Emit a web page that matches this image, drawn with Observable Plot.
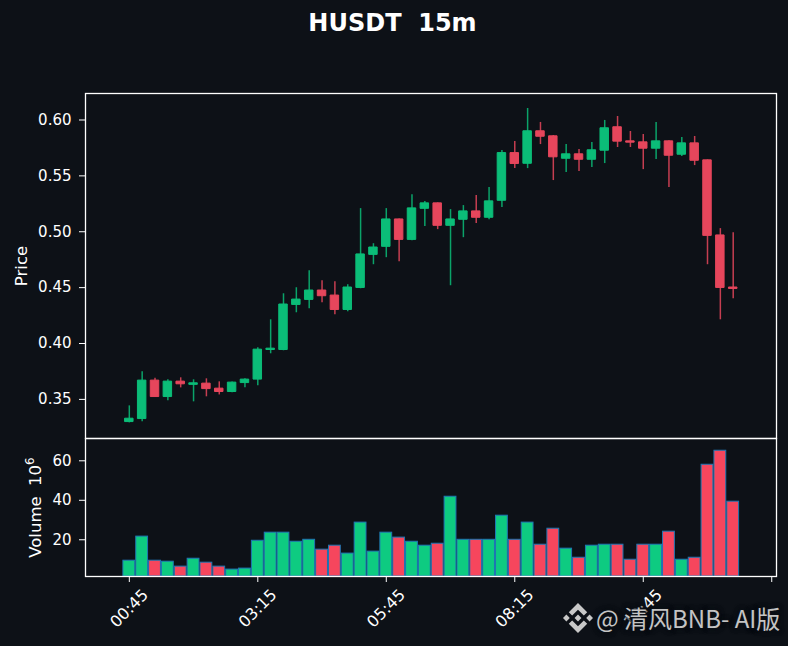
<!DOCTYPE html>
<html>
<head>
<meta charset="utf-8">
<script src="https://cdn.jsdelivr.net/npm/d3@7"></script>
<script src="https://cdn.jsdelivr.net/npm/@observablehq/plot@0.6"></script>
<style>
html,body{margin:0;padding:0;background:#0d1117;width:788px;height:646px;overflow:hidden;font-family:"DejaVu Sans",sans-serif;}
#wrap{position:relative;width:788px;height:646px;}
#title{position:absolute;left:0;width:785px;top:8px;text-align:center;color:#fff;font-weight:bold;font-size:24px;line-height:30px;white-space:pre;}
#price,#volume{position:absolute;left:0;}
#price{top:0;}
#volume{top:438px;}
#mark{position:absolute;left:563px;top:603px;width:30px;height:30px;fill:#c8c8c8;}
#wm{position:absolute;left:596px;top:600px;color:#c4c4c4;font-family:"Noto Sans CJK SC","Noto Sans",sans-serif;font-size:24px;line-height:36px;white-space:pre;text-shadow:0 0 2px #0d1117,0 0 3px #0d1117,0 0 5px #0d1117,0 0 5px #0d1117,0 0 6px #0d1117;}
</style>
</head>
<body>
<div id="wrap">
<div id="title">HUSDT  15m</div>
<div id="price"></div>
<div id="volume"></div>
<div id="wm">@ 清风BNB- AI版</div>
<svg id="mark" viewBox="0 0 126.61 126.61"><polygon points="38.73,53.2 63.3,28.63 87.89,53.21 102.19,38.91 63.3,0 24.43,38.9"/><polygon points="0,63.3 14.3,49 28.6,63.3 14.3,77.6"/><polygon points="98,63.3 112.3,49 126.6,63.3 112.3,77.6"/><polygon points="63.3,98 38.73,73.41 24.41,87.69 63.3,126.61 102.19,87.7 87.89,73.41"/><polygon points="63.3,48.78 48.78,63.3 63.3,77.83 77.83,63.3"/></svg>
</div>
<script>
const opens  = [.3297,.3324,.3668,.3521,.3659,.3630,.3641,.3596,.3566,.3646,.3677,.3942,.3942,.4345,.4390,.4474,.4429,.4300,.4497,.4793,.4865,.5110,.4927,.5205,.5254,.5053,.5107,.5182,.5125,.5277,.5704,.5608,.5899,.5854,.5653,.5693,.5644,.5725,.5935,.5809,.5800,.5743,.5809,.5689,.5791,.5639,.4967,.4501];
const highs  = [.3442,.3747,.3690,.3675,.3693,.3675,.3684,.3657,.3655,.3684,.3962,.4212,.4445,.4499,.4652,.4562,.4553,.4526,.5207,.4893,.5207,.5113,.5332,.5270,.5258,.5198,.5234,.5324,.5395,.5727,.5807,.6103,.5978,.5861,.5780,.5736,.5798,.5996,.6031,.5897,.5870,.5978,.5814,.5843,.5852,.5643,.5028,.4992];
const lows   = [.3290,.3299,.3516,.3487,.3603,.3478,.3523,.3540,.3560,.3603,.3621,.3908,.3935,.4275,.4311,.4365,.4257,.4284,.4490,.4705,.4768,.4732,.4920,.5046,.5019,.4517,.4947,.5073,.5108,.5216,.5565,.5565,.5780,.5458,.5530,.5539,.5574,.5610,.5754,.5754,.5556,.5646,.5395,.5673,.5592,.4705,.4212,.4401];
const closes = [.3327,.3668,.3521,.3659,.3635,.3644,.3592,.3566,.3650,.3677,.3945,.3954,.4349,.4393,.4474,.4423,.4300,.4501,.4797,.4859,.5110,.4927,.5209,.5254,.5053,.5110,.5182,.5125,.5272,.5704,.5606,.5899,.5850,.5666,.5693,.5644,.5729,.5926,.5806,.5797,.5743,.5809,.5680,.5791,.5635,.4963,.4497,.4488];
const volumes = [9.4,21.6,9.4,8.9,6.4,10.4,8.4,6.4,4.9,5.4,19.5,23.6,23.6,19.0,20.0,15.0,17.0,13.0,28.7,14.0,23.6,21.1,19.0,17.0,18.0,41.8,20.0,20.0,20.0,32.2,20.0,28.7,17.5,25.6,15.5,10.9,17.0,17.5,17.5,9.9,17.5,17.5,24.1,9.9,10.9,58.0,65.1,39.3];
const tickPositions = [0,10,20,30,40,50];
const tickLabels = ["00:45","03:15","05:45","08:15","10:45",""];
const priceTicks = [.35,.40,.45,.50,.55,.60];
const volumeTicks = [20,40,60];
const xDomain = [-3.41,50.37];
const priceDomain = [.3150,.6237];
const volumeDomain = [1.4,71.3];
const upColor = "#0ecb81", downColor = "#f6465d", edgeColor = "#1f77b4";
const bodyUp = "#0bbd78", bodyDown = "#e6465c";
const font = '"DejaVu Sans",sans-serif';

const rows = opens.map((o,i)=>({i,o,h:highs[i],l:lows[i],c:closes[i],v:volumes[i],up:closes[i]>=o}));
const base = {width:788,marginLeft:85,marginRight:12,x:{domain:xDomain,axis:null},
  style:{background:"transparent",color:"#fff",overflow:"visible",fontFamily:font}};

const price = Plot.plot({...base,height:438,marginTop:93,marginBottom:0,
  y:{domain:priceDomain,axis:null},
  marks:[
    Plot.ruleX(rows,{x:"i",y1:"l",y2:"h",stroke:d=>d.up?bodyUp:bodyDown,strokeOpacity:.85,strokeWidth:1.5}),
    Plot.rect(rows,{x1:d=>d.i-.33,x2:d=>d.i+.33,y1:"o",y2:"c",fill:d=>d.up?bodyUp:bodyDown,stroke:d=>d.up?bodyUp:bodyDown,strokeWidth:1,strokeLinejoin:"round"}),
    Plot.axisY({ticks:priceTicks,tickFormat:d3.format(".2f"),tickSize:6,tickPadding:8,stroke:"#fff",fill:"#fff",fontSize:15,label:null}),
    Plot.axisY({ticks:[],label:"Price",labelAnchor:"center",labelArrow:"none",labelOffset:70,fill:"#fff",fontSize:16.5}),
    Plot.frame({stroke:"#fff",strokeWidth:1.3})
  ]});
document.getElementById("price").append(price);

const volume = Plot.plot({...base,height:208,marginTop:0,marginBottom:70,
  y:{domain:volumeDomain,axis:null},
  marks:[
    Plot.rect(rows,{x1:d=>d.i-.46,x2:d=>d.i+.46,y1:volumeDomain[0],y2:"v",fill:d=>d.up?upColor:downColor,stroke:edgeColor,strokeWidth:1}),
    Plot.axisY({ticks:volumeTicks,tickSize:6,tickPadding:8,stroke:"#fff",fill:"#fff",fontSize:15,label:null}),
    Plot.axisY({ticks:[],label:"Volume  10⁶",labelAnchor:"center",labelArrow:"none",labelOffset:56,fill:"#fff",fontSize:16.5}),
    Plot.axisX({ticks:tickPositions,tickFormat:d=>tickLabels[tickPositions.indexOf(d)],tickSize:6,tickPadding:26,tickRotate:-45,textAnchor:"middle",lineAnchor:"middle",stroke:"#fff",fill:"#fff",fontSize:16,label:null}),
    Plot.frame({stroke:"#fff",strokeWidth:1.3})
  ]});
document.getElementById("volume").append(volume);
// the exponent is drawn as a raised smaller digit, as in the reference
for (const t of volume.querySelectorAll("text")) {
  if (t.textContent.includes("Volume")) {
    const target = [...t.querySelectorAll("tspan")].find(s => s.textContent.includes("Volume")) || t;
    target.textContent = "Volume  10";
    const sup = document.createElementNS("http://www.w3.org/2000/svg","tspan");
    sup.setAttribute("dy","-7");
    sup.setAttribute("font-size","12");
    sup.textContent = "6";
    target.append(sup);
  }
}
</script>
</body>
</html>
